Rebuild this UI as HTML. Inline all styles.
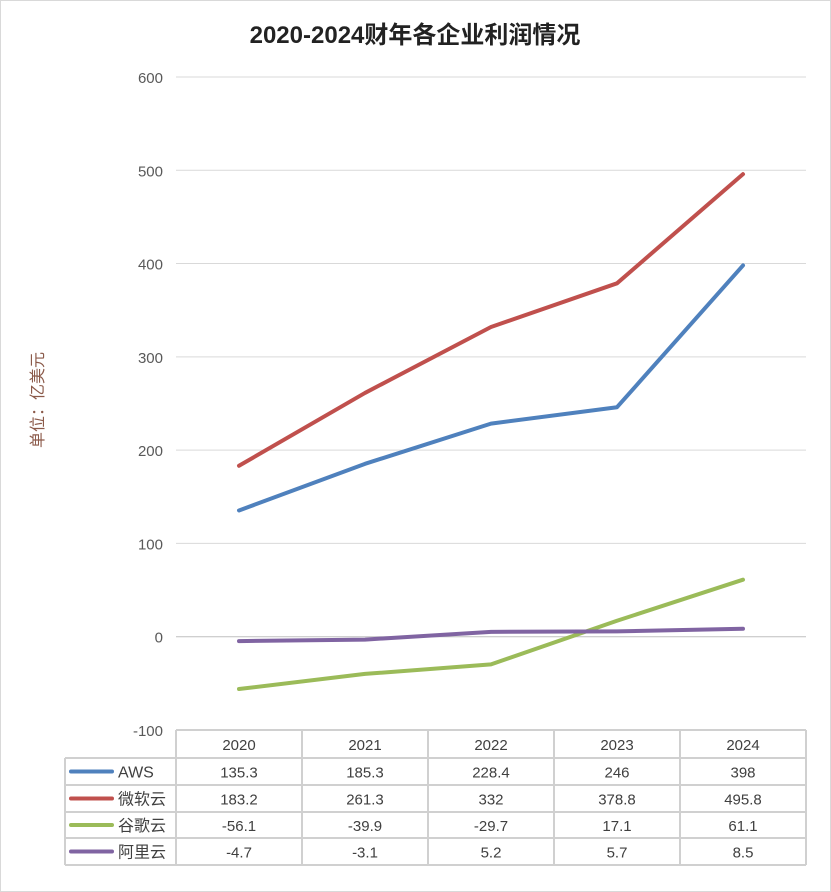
<!DOCTYPE html>
<html><head><meta charset="utf-8">
<style>
body{margin:0;background:#fff;}
svg{display:block;font-family:"Liberation Sans","Noto Sans CJK SC",sans-serif;}
</style></head>
<body>
<svg id="chart" width="831" height="892">
<rect x="0.5" y="0.5" width="830" height="891" fill="#fff" stroke="#d9d9d9"/>
<text x="415" y="43" text-anchor="middle" font-size="24" font-weight="bold" fill="#222">2020-2024财年各企业利润情况</text>
<text transform="translate(43,400) rotate(-90)" text-anchor="middle" font-size="16" fill="#8b5a4a">单位：亿美元</text>
<g id="grid"></g><g id="series"></g><g id="table"></g>
</svg>
<script>
const categories=["2020","2021","2022","2023","2024"];
const seriesNames=["AWS","微软云","谷歌云","阿里云"];
const awsValues=[135.3,185.3,228.4,246,398];
const msValues=[183.2,261.3,332,378.8,495.8];
const googleValues=[-56.1,-39.9,-29.7,17.1,61.1];
const aliValues=[-4.7,-3.1,5.2,5.7,8.5];
const yTicks=[-100,0,100,200,300,400,500,600];
const colors=["#4f81bd","#c0504d","#9bbb59","#8064a2"];
const allSeries=[awsValues,msValues,googleValues,aliValues];
const NS="http://www.w3.org/2000/svg";
const left=176,right=806,colW=(right-left)/categories.length;
const y=v=>636.7-(v)*0.9329;
const x=i=>left+colW*(i+0.5);
function mk(tag,attrs,parent,text){const e=document.createElementNS(NS,tag);for(const k in attrs)e.setAttribute(k,attrs[k]);if(text!==undefined)e.textContent=text;parent.appendChild(e);return e;}
const grid=document.getElementById('grid');
yTicks.forEach(t=>{
  const l=mk('line',{x1:left,x2:right,y1:y(t),y2:y(t),stroke:t===0?'#bfbfbf':'#d9d9d9','stroke-width':1},grid);
  
  
  const tx=mk('text',{x:163,y:y(t)+6,'text-anchor':'end','font-size':15,fill:'#595959'},grid,String(t));
  
  
});
const sg=document.getElementById('series');
allSeries.forEach((vals,s)=>{
  const p=mk('polyline',{points:vals.map((v,i)=>x(i)+','+y(v)).join(' '),fill:'none',stroke:colors[s],'stroke-width':4,'stroke-linejoin':'round','stroke-linecap':'round'},sg);
  
  
});
const tb=document.getElementById('table');
const rows=[730,758,785,812,838,865];
const lc='#d0d0d0';
// header row
mk('line',{x1:left,x2:right,y1:730,y2:730,stroke:lc,'stroke-width':2},tb);
for(let r=1;r<rows.length;r++){mk('line',{x1:65,x2:right,y1:rows[r],y2:rows[r],stroke:lc,'stroke-width':2},tb);}
mk('line',{x1:65,x2:65,y1:758,y2:865,stroke:lc,'stroke-width':2},tb);
for(let c=0;c<=categories.length;c++){mk('line',{x1:left+c*colW,x2:left+c*colW,y1:730,y2:865,stroke:lc,'stroke-width':2},tb);}
categories.forEach((c,i)=>{
  const t=mk('text',{x:x(i),y:750,'text-anchor':'middle','font-size':15,fill:'#404040'},tb,c);
  
  
});
allSeries.forEach((vals,s)=>{
  const cy=(rows[s+1]+rows[s+2])/2;
  const lk=mk('line',{x1:71,x2:112,y1:cy,y2:cy,stroke:colors[s],'stroke-width':4,'stroke-linecap':'round'},tb);
  
  
  const ln=mk('text',{x:118,y:cy+6,'font-size':16,fill:'#404040'},tb,seriesNames[s]);
  
  
  vals.forEach((v,i)=>{
    const t=mk('text',{x:x(i),y:cy+6,'text-anchor':'middle','font-size':15,fill:'#404040'},tb,String(v));
    
    
  });
});
</script>
</body></html>
